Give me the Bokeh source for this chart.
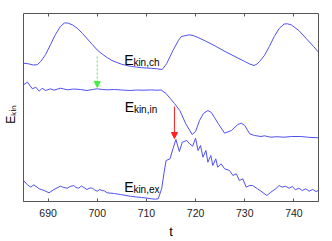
from bokeh.plotting import figure
from bokeh.models import Label, Arrow, NormalHead, LinearAxis, FixedTicker
from bokeh.embed import file_html
from bokeh.resources import INLINE

# ---- data (arbitrary energy units) ----
t_ch = [685, 686, 687, 687.8, 688.5, 689.5, 690.5, 691.5, 692.5, 693.3, 694, 695, 696, 697, 698, 699, 700,
        701, 702, 703, 704, 705, 706, 707, 708, 709, 710, 711, 712, 713.2, 714.1, 715.4, 716.5, 717.1,
        718.7, 719.5, 720.5, 722, 724, 726, 728, 730, 731, 731.9, 732.5, 733, 734, 735, 736, 737, 738,
        738.7, 739.5, 741, 742.5, 744, 745]
e_ch = [138.3, 137.7, 136.5, 136.8, 140, 147, 157, 167, 175, 178.5, 178.5, 176.5, 173, 168, 162.5, 157, 151.5,
        147.5, 144, 141, 139, 137.2, 136, 135, 134.4, 133.8, 133.5, 133.2, 132.8, 132, 137.7, 151, 161, 165,
        166.7, 166, 164, 160.5, 155.5, 150, 145, 140, 137.5, 136, 137.5, 140, 146, 155, 165, 173, 177.5,
        177.7, 176.5, 171, 163, 155, 149.3]

t_in = [685, 685.8, 686.8, 687.5, 688.2, 688.8, 689.5, 690.5, 691.2, 692.5, 693.9, 695.2, 696.6, 697.9, 699,
        700, 701, 702, 703.5, 705, 706.7, 708, 709.5, 711, 712, 713, 714, 714.9, 715.7, 716.8, 718, 719.3,
        720, 720.8, 721.6, 722.5, 723.2, 723.8, 724.6, 725.9, 727.3, 728.6, 729.3, 730, 731, 732, 733.3,
        734, 735.3, 736.5, 738, 739.5, 741.4, 743, 745]
e_in = [116.7, 119.3, 112.7, 114.3, 110.3, 113.3, 111, 112.7, 111.3, 113.3, 111.7, 112.5, 112, 111, 112,
        112.7, 112, 111.7, 112, 111.5, 111, 111.5, 111.3, 111.6, 111.3, 111.5, 108, 102.7, 98, 91, 77.7, 67,
        70, 81, 88, 91, 89, 84.3, 78, 68.3, 71, 77, 78.3, 76, 67.7, 66, 65,
        65.7, 64.3, 64.8, 64.3, 65, 65, 64.2, 63.7]

t_ex = [685, 685.8, 686.5, 687.1, 688.2, 689.2, 690.2, 691.2, 692.5, 693.2, 693.9, 694.5, 695.2, 695.7, 696.2,
        696.8, 697.9, 698.5, 699, 699.5, 700, 700.5, 701, 701.5, 702, 703.5, 704.7, 706.7, 708, 709, 710,
        711, 711.8, 712.4, 713.1, 713.6, 714.0, 714.8, 715.4, 716.0, 716.7, 717.3, 718.2, 718.8, 719.4,
        720.0, 720.5, 721.0, 721.5, 722.1, 722.5, 723.1, 723.5, 724.1, 724.5, 725.2, 725.9, 726.9, 727.6,
        728.3, 728.9, 729.6, 730.3, 731.0, 731.6, 732.6, 733.3, 734.5, 735.3, 736.3, 737.0, 737.6, 738.3,
        739.0, 739.7, 740.3, 741.0, 741.7, 742.4, 743.1, 743.8, 744.5, 745]
e_ex = [21, 16.7, 14.3, 16.7, 12.7, 11, 8.7, 12, 15.3, 14, 13.3, 15, 16, 14, 13.3,
        15.5, 12, 13.5, 13.3, 11.5, 10.3, 12, 11, 10.5, 8.7, 8, 7, 5.3, 4.5, 4, 3.5,
        2.7, 2.3, 2.7, 12.7, 29.3, 41, 42.7, 52.7, 62, 50, 59.3, 61, 57.7, 55.3,
        63.3, 51, 56, 44.3, 51, 39.3, 46, 36, 42.7, 34.3, 37.7, 32.7, 31, 26,
        27.7, 21, 22.7, 14.3, 16, 16, 12.7, 10.3, 6, 9.3, 12.7, 16, 14.3, 15.3,
        13.3, 15, 11.7, 13.3, 11, 12.7, 10.3, 12, 10, 11]

x_ticks = [690, 700, 710, 720, 730, 740]

# arrows: time, start level, end level
arrow_t = [700, 715.7]
arrow_from = [145, 95]
arrow_to = [114, 63]
arrow_colors = ["#44ee44", "#ff2020"]
arrow_dash = ["2 2", "solid"]

FONT = "Liberation Sans"
LINE = "#5050f0"
FRAME = "#555555"

p = figure(width=332, height=241, x_range=(685, 745), y_range=(0, 188),
           output_backend="svg", toolbar_location=None,
           min_border_left=22, min_border_right=14, min_border_top=13, min_border_bottom=40)
p.grid.visible = False
p.outline_line_color = FRAME
p.background_fill_color = "white"
p.border_fill_color = "white"

ax = p.xaxis[0]
ax.ticker = FixedTicker(ticks=x_ticks)
ax.major_tick_in = 3
ax.major_tick_out = 0
ax.minor_tick_line_color = None
ax.axis_line_color = FRAME
ax.major_tick_line_color = FRAME
ax.major_label_text_font = FONT
ax.major_label_text_font_size = "10.5px"
ax.major_label_text_color = "#222222"
ax.major_label_standoff = 7
ax.axis_label = "t"
ax.axis_label_text_font = FONT
ax.axis_label_text_font_size = "13px"
ax.axis_label_text_font_style = "normal"
ax.axis_label_text_color = "black"
ax.axis_label_standoff = 4

ay = p.yaxis[0]
ay.ticker = FixedTicker(ticks=[])
ay.axis_line_color = None
ay.major_tick_line_color = None
ay.minor_tick_line_color = None
ay.axis_label = "E\u2096\u1d62\u2099" + "\u00a0" * 4
ay.axis_label_text_font = FONT
ay.axis_label_text_font_size = "12px"
ay.axis_label_text_font_style = "normal"
ay.axis_label_text_color = "black"
ay.axis_label_standoff = 6

top = LinearAxis(ticker=FixedTicker(ticks=x_ticks), major_tick_in=3, major_tick_out=0,
                 minor_tick_line_color=None, axis_line_color=None, major_tick_line_color=FRAME,
                 major_label_text_font_size="8px", major_label_text_color=None, major_label_standoff=0)
p.add_layout(top, "above")

for tt, ee in [(t_ch, e_ch), (t_in, e_in), (t_ex, e_ex)]:
    p.line(tt, ee, line_color=LINE, line_width=1)

for xa, y0, y1, c, d in zip(arrow_t, arrow_from, arrow_to, arrow_colors, arrow_dash):
    p.add_layout(Arrow(x_start=xa, y_start=y0, x_end=xa, y_end=y1, line_color=c, line_width=1,
                       line_dash=d, end=NormalHead(size=6, fill_color=c, line_color=c)))

def elabel(x, y, sub, fs="14px", sfs="10px", dx=1.85, dy=-2.7):
    p.add_layout(Label(x=x, y=y, text="E", text_font=FONT, text_font_size=fs,
                       text_baseline="alphabetic", text_color="black"))
    p.add_layout(Label(x=x + dx, y=y + dy, text=sub, text_font=FONT, text_font_size=sfs,
                       text_baseline="alphabetic", text_color="black"))

elabel(705.5, 141.7, "kin,ch")
elabel(705.6, 95, "kin,in")
elabel(705.5, 15, "kin,ex")

open("out.html", "w").write(file_html(p, INLINE))
